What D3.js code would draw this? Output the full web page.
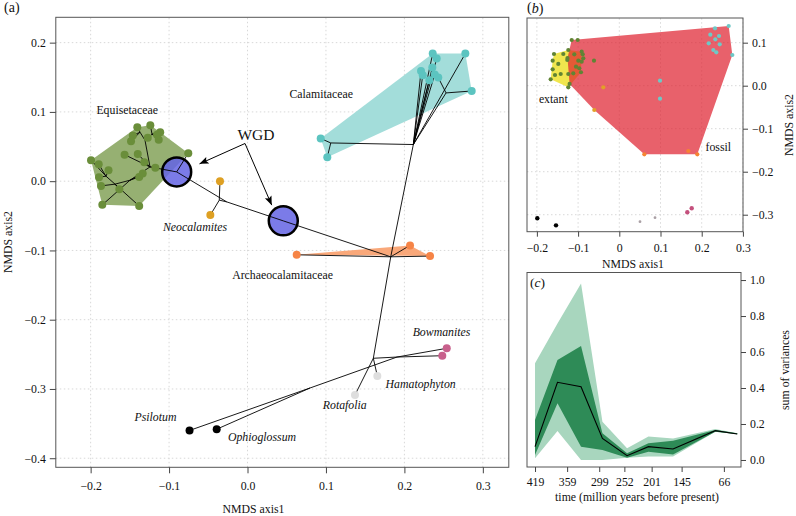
<!DOCTYPE html>
<html><head><meta charset="utf-8">
<script src="https://cdn.jsdelivr.net/npm/d3@7"></script>
<style>body{margin:0;background:#fff}</style>
</head><body><svg id="c" width="796" height="516"></svg>
<script>
// ---------------- Panel (a) data (NMDS coordinates) ----------------
const equisetaceae = [
 ["E1",-0.1995,0.0303],["E2",-0.1897,0.0245],["E3",-0.1772,0.0159],["E4",-0.1893,0.0058],
 ["E5",-0.1868,-0.0068],["E6",-0.1851,-0.0342],["E7",-0.1634,-0.0118],["E8",-0.1381,-0.0358],
 ["E9",-0.1567,0.0382],["E10",-0.1399,0.0394],["E11",-0.1462,0.0661],["E12",-0.1485,0.0577],
 ["E13",-0.1405,0.0779],["E14",-0.1239,0.0808],["E15",-0.1272,0.0627],["E16",-0.1113,0.0707],
 ["E17",-0.1154,0.0671],["E18",-0.1132,0.0599],["E19",-0.1316,0.0274],["E20",-0.1175,0.0195],
 ["E21",-0.1381,0.0062],["E22",-0.1336,0.0111],["E23",-0.0755,0.0404]];
const calamitaceae = [
 ["C1",0.2361,0.1842],["C2",0.2412,0.1770],["C3",0.2777,0.1842],["C4",0.2858,0.1302],
 ["C5",0.2212,0.1591],["C6",0.2234,0.1529],["C7",0.2356,0.1640],["C8",0.2387,0.1539],
 ["C9",0.2318,0.1457],["C10",0.2432,0.1496],["C11",0.0933,0.0616],["C12",0.1017,0.0346]];
const archaeocalamitaceae = [["A1",0.0627,-0.1063],["A2",0.2072,-0.0927],["A3",0.2327,-0.1082]];
const neocalamites = [["Na",-0.0351,0.0],["Nb",-0.0474,-0.049]];
const bowmanites = [["B1",0.254,-0.2413],["B2",0.2483,-0.252]];
const hamatophyton = [["H",0.1655,-0.2813]];
const rotafolia = [["R",0.137,-0.3087]];
const outgroup = [["Ps",-0.0739,-0.3599],["Op",-0.0393,-0.3581]];
const internalNodes = [
 ["W1",-0.0903,0.0134],["W2",0.0456,-0.0573],["NN",-0.0265,-0.0299],["N1",-0.036,-0.0274],
 ["AN",0.1826,-0.1092],["CN",0.2114,0.0529],["CL",0.1061,0.0552],["CR",0.2531,0.1274],
 ["TN",0.1604,-0.2557],["BN",0.1906,-0.2539],["PO",0.0797,-0.2986],
 ["EA",-0.1243,0.0206],["EB",-0.1307,0.0591],["EG",-0.137,0.0707],["EC",-0.1217,0.0678],
 ["ED",-0.1498,0.0014],["EE",-0.1689,-0.0043],["EF",-0.1804,0.0072]];
const wgdNodes = ["W1","W2"];
const edges = [
 ["W1","NN"],["NN","W2"],["W2","AN"],["NN","N1"],["N1","Na"],["N1","Nb"],
 ["AN","A1"],["AN","A2"],["AN","A3"],["AN","CN"],["AN","TN"],
 ["CN","CL"],["CL","C11"],["CL","C12"],["CN","C1"],["CN","C2"],["CN","C5"],["CN","C6"],
 ["CN","C7"],["CN","C8"],["CN","C9"],["CN","C3"],["CN","CR"],["CR","C4"],["CR","C10"],
 ["TN","R"],["TN","H"],["TN","BN"],["BN","B1"],["BN","B2"],["BN","PO"],["PO","Ps"],["PO","Op"],
 ["W1","EA"],["W1","E23"],["EA","EB"],["EB","EG"],["EG","E11"],["EG","E13"],["EG","E12"],
 ["EB","EC"],["EC","E14"],["EC","E16"],["EC","E17"],["EC","E18"],["EB","E15"],["EA","E9"],
 ["EA","E10"],["EA","E19"],["EA","E20"],["EA","ED"],["ED","E21"],["ED","E22"],["ED","EE"],
 ["ED","E6"],["EE","E8"],["EE","E7"],["EE","EF"],["EF","E1"],["EF","E2"],["EF","E4"],
 ["EF","E3"],["EE","E5"]];
const taxonLabels = [
 ["Equisetaceae",-0.1534,0.1034,false],["Calamitaceae",0.094,0.1255,false],
 ["Neocalamites",-0.0669,-0.0668,true],["Archaeocalamitaceae",0.0447,-0.136,false],
 ["Bowmanites",0.2473,-0.2174,true],["Hamatophyton",0.2207,-0.2928,true],
 ["Rotafolia",0.124,-0.3227,true],["Psilotum",-0.1173,-0.34,true],["Ophioglossum",0.0185,-0.3692,true]];
const wgdLabel = ["WGD",0.0107,0.0678];
const wgdArrowVertex = [-0.0032,0.0544];
const wgdArrowTips = [[-0.0612,0.025],[0.0309,-0.0346]];
const aXTicks = [-0.2,-0.1,0,0.1,0.2,0.3];
const aYTicks = [-0.4,-0.3,-0.2,-0.1,0,0.1,0.2];

// ---------------- Panel (b) data ----------------
const bExtant = [[-0.1585,0.0737],[-0.1617,0.0581],[-0.1617,0.0381],[-0.1665,0.0149],[-0.1561,0.0249],
 [-0.1481,0.0505],[-0.1422,0.0272],[-0.1359,0.0737],[-0.1238,-0.0037],[-0.1238,0.083],
 [-0.1262,0.0598],[-0.1238,0.0272],[-0.0913,0.0791],[-0.093,0.0312],[-0.1117,0.0288]];
const bFossilEqui = [[-0.1155,0.1063],[-0.101,0.1063],[-0.1092,0.073],[-0.0888,0.073],[-0.0995,0.0581],
 [-0.0913,0.0558],[-0.0874,0.0637],[-0.0614,0.0581],[-0.1051,0.0442],[-0.0971,0.0405],
 [-0.1257,0.0644],[-0.1206,0.004]];
const bCalam = [[0.2323,0.1335],[0.2655,0.1388],[0.2209,0.1186],[0.242,0.1156],[0.233,0.1079],
 [0.217,0.0986],[0.2437,0.0963],[0.2282,0.083],[0.2354,0.0777],[0.2743,0.0714],[0.0988,0.0116],[0.0988,-0.0302]];
const bArch = [[0.0607,-0.1595],[0.1675,-0.1519],[0.1893,-0.1595]];
const bNeo = [[-0.0388,-0.0037],[-0.0607,-0.0565]];
const bOut = [[-0.199,-0.3084],[-0.1536,-0.3247]];
const bProto = [[0.0502,-0.3163],[0.0867,-0.307]];
const bBow = [[0.165,-0.2944],[0.1757,-0.2851]];
const bXTicks = [-0.2,-0.1,0,0.1,0.2,0.3];
const bYTicks = [0.1,0,-0.1,-0.2,-0.3];
const bLabels = [["extant",-0.1602,-0.0316],["fossil",0.2403,-0.1419]];

// ---------------- Panel (c) data ----------------
const periods = [419,377,333,293,247,207,161,82,41];
const medianVar = [0.074,0.432,0.407,0.12,0.024,0.074,0.061,0.163,0.144];
const outerLow  = [0.009,0.161,0.0,0.0,0.013,0.019,0.019,0.157,0.144];
const outerHigh = [0.537,0.759,0.981,0.213,0.065,0.13,0.12,0.172,0.148];
const innerLow  = [0.028,0.315,0.074,0.056,0.013,0.046,0.031,0.157,0.143];
const innerHigh = [0.222,0.556,0.633,0.148,0.037,0.093,0.107,0.167,0.148];
const timeTicks = [419,359,299,252,201,145,66];
const cYTicks = [0,0.2,0.4,0.6,0.8,1.0];

// ---------------- drawing ----------------
const FONT = "'Liberation Serif','Times New Roman',serif";
const FS = 11.8;
const svg = d3.select("#c");
svg.append("rect").attr("width",796).attr("height",516).attr("fill","#fff");
const fmt1 = d => (d<0?"\u2212":"") + Math.abs(d).toFixed(1);
const gridStyle = s => s.attr("stroke","#d8d8d8").attr("stroke-width",1).attr("stroke-dasharray","1.5,2.5");
function styleAxis(g){
  g.select(".domain").remove();
  g.selectAll(".tick line").attr("stroke","#444");
  g.selectAll(".tick text").attr("font-family",FONT).attr("font-size",FS).attr("fill","#111");
}
function text(g,x,y,s,opt={}){
  const t = g.append("text").attr("x",x).attr("y",y).attr("font-family",FONT)
    .attr("font-size",opt.size||FS).attr("fill","#111").attr("dominant-baseline","central")
    .attr("text-anchor",opt.anchor||"middle").text(s);
  if(opt.italic) t.attr("font-style","italic");
  if(opt.rotate) t.attr("transform",`rotate(${opt.rotate},${x},${y})`);
  return t;
}

// ===== Panel A =====
const ax = d3.scaleLinear().domain([-0.2444,0.3331]).range([55.8,508.8]);
const ay = d3.scaleLinear().domain([-0.4131,0.2366]).range([467.3,17.3]);
const gA = svg.append("g");
gA.selectAll(".gx").data(aXTicks).join("line").attr("x1",d=>ax(d)).attr("x2",d=>ax(d))
  .attr("y1",ay.range()[0]).attr("y2",ay.range()[1]).call(gridStyle);
gA.selectAll(".gy").data(aYTicks).join("line").attr("y1",d=>ay(d)).attr("y2",d=>ay(d))
  .attr("x1",ax.range()[0]).attr("x2",ax.range()[1]).call(gridStyle);

const allLeaves = [].concat(equisetaceae,calamitaceae,archaeocalamitaceae,neocalamites,bowmanites,hamatophyton,rotafolia,outgroup,internalNodes);
const pos = new Map(allLeaves.map(d=>[d[0],[ax(d[1]),ay(d[2])]]));
function hullPath(pts){ const h = d3.polygonHull(pts); return "M"+h.join("L")+"Z"; }
const hulls = [[equisetaceae,"rgb(150,176,114)"],[calamitaceae,"rgb(163,221,218)"],[archaeocalamitaceae,"rgb(249,168,122)"]];
hulls.forEach(([grp,col])=>{
  gA.append("path").attr("d",hullPath(grp.map(d=>[ax(d[1]),ay(d[2])]))).attr("fill",col);
});
// WGD circles
gA.selectAll(".wgd").data(wgdNodes).join("circle").attr("cx",d=>pos.get(d)[0]).attr("cy",d=>pos.get(d)[1])
  .attr("r",14.5).attr("fill","rgb(100,100,228)").attr("fill-opacity",0.85).attr("stroke","#000").attr("stroke-width",2.5);
// tree edges
gA.selectAll(".edge").data(edges).join("line")
  .attr("x1",d=>pos.get(d[0])[0]).attr("y1",d=>pos.get(d[0])[1])
  .attr("x2",d=>pos.get(d[1])[0]).attr("y2",d=>pos.get(d[1])[1])
  .attr("stroke","#000").attr("stroke-width",0.9);
// points
const groups = [[equisetaceae,"rgb(106,142,58)"],[calamitaceae,"rgb(92,196,192)"],[archaeocalamitaceae,"rgb(246,132,70)"],
 [neocalamites,"rgb(222,160,35)"],[bowmanites,"rgb(200,96,140)"],[hamatophyton,"rgb(222,222,222)"],[rotafolia,"rgb(222,222,222)"],[outgroup,"#000"]];
groups.forEach(([grp,col])=>{
  gA.append("g").selectAll("circle").data(grp).join("circle").attr("cx",d=>ax(d[1])).attr("cy",d=>ay(d[2]))
    .attr("r",4).attr("fill",col);
});
// labels
taxonLabels.forEach(d=>text(gA,ax(d[1]),ay(d[2]),d[0],{italic:d[3]}));
text(gA,ax(wgdLabel[1]),ay(wgdLabel[2]),wgdLabel[0],{size:15.5});
const defs = svg.append("defs");
defs.append("marker").attr("id","ah").attr("viewBox","0 0 10 10").attr("refX",10).attr("refY",5)
  .attr("markerWidth",9).attr("markerHeight",9).attr("markerUnits","userSpaceOnUse").attr("orient","auto")
  .append("path").attr("d","M0,1 L10,5 L0,9 L2,5 Z").attr("fill","#000");
wgdArrowTips.forEach(t=>{
  gA.append("line").attr("x1",ax(wgdArrowVertex[0])).attr("y1",ay(wgdArrowVertex[1]))
    .attr("x2",ax(t[0])).attr("y2",ay(t[1])).attr("stroke","#000").attr("stroke-width",1)
    .attr("marker-end","url(#ah)");
});
// frame and axes
gA.append("rect").attr("x",55.8).attr("y",17.3).attr("width",453).attr("height",450)
  .attr("fill","none").attr("stroke","#555").attr("stroke-width",1);
gA.append("g").attr("transform","translate(0,467.3)")
  .call(d3.axisBottom(ax).tickValues(aXTicks).tickFormat(fmt1).tickSize(6).tickPadding(8)).call(styleAxis);
gA.append("g").attr("transform","translate(55.8,0)")
  .call(d3.axisLeft(ay).tickValues(aYTicks).tickFormat(fmt1).tickSize(6).tickPadding(4)).call(styleAxis);
text(gA,253.5,509,"NMDS axis1");
text(gA,8,242,"NMDS axis2",{rotate:-90});
text(gA,4,7.5,"(a)",{anchor:"start",size:14});

// ===== Panel B =====
const bx = d3.scaleLinear().domain([-0.224,0.3002]).range([527,743]);
const by = d3.scaleLinear().domain([-0.3395,0.1574]).range([231.7,18]);
const gB = svg.append("g");
gB.selectAll(".gx").data(bXTicks).join("line").attr("x1",d=>bx(d)).attr("x2",d=>bx(d))
  .attr("y1",by.range()[0]).attr("y2",by.range()[1]).call(gridStyle);
gB.selectAll(".gy").data(bYTicks).join("line").attr("y1",d=>by(d)).attr("y2",d=>by(d))
  .attr("x1",bx.range()[0]).attr("x2",bx.range()[1]).call(gridStyle);
gB.append("path").attr("d",hullPath(bExtant.map(d=>[bx(d[0]),by(d[1])]))).attr("fill","rgb(240,230,78)");
gB.append("path").attr("d",hullPath([].concat(bFossilEqui,bCalam,bArch,bNeo).map(d=>[bx(d[0]),by(d[1])])))
  .attr("fill","rgb(222,30,44)").attr("fill-opacity",0.7);
const bGroups = [[bExtant,"rgb(96,132,52)",2.1],[bFossilEqui,"rgb(96,132,52)",2.1],[bCalam,"rgb(110,200,198)",2.1],
 [bArch,"rgb(246,132,50)",2.1],[bNeo,"rgb(226,160,40)",2.1],[bOut,"#000",2.2],[bProto,"rgb(170,160,165)",1.4],[bBow,"rgb(196,80,125)",2.2]];
bGroups.forEach(([grp,col,r])=>{
  gB.append("g").selectAll("circle").data(grp).join("circle").attr("cx",d=>bx(d[0])).attr("cy",d=>by(d[1]))
    .attr("r",r).attr("fill",col);
});
bLabels.forEach(d=>text(gB,bx(d[1]),by(d[2]),d[0]));
gB.append("rect").attr("x",527).attr("y",18).attr("width",216).attr("height",213.7)
  .attr("fill","none").attr("stroke","#555");
gB.append("g").attr("transform","translate(0,231.7)")
  .call(d3.axisBottom(bx).tickValues(bXTicks).tickFormat(d=>d===0?"0":fmt1(d)).tickSize(5).tickPadding(7)).call(styleAxis);
gB.append("g").attr("transform","translate(743,0)")
  .call(d3.axisRight(by).tickValues(bYTicks).tickFormat(fmt1).tickSize(5).tickPadding(4)).call(styleAxis);
text(gB,633,263.5,"NMDS axis1");
text(gB,789,125,"NMDS axis2",{rotate:-90});
const tb = text(gB,527,7.5,"(",{anchor:"start",size:14});
tb.append("tspan").attr("font-style","italic").text("b"); tb.append("tspan").text(")");

// ===== Panel C =====
const cx = d3.scaleLinear().domain([434,34]).range([527,741]);
const cy = d3.scaleLinear().domain([-0.039,1.042]).range([467,272.5]);
const gC = svg.append("g");
const idx = d3.range(periods.length);
const area = (lo,hi)=>d3.area().x(i=>cx(periods[i])).y0(i=>cy(lo[i])).y1(i=>cy(hi[i]));
gC.append("path").attr("d",area(outerLow,outerHigh)(idx)).attr("fill","rgb(168,214,190)");
gC.append("path").attr("d",area(innerLow,innerHigh)(idx)).attr("fill","rgb(46,139,87)");
gC.append("path").attr("d",d3.line().x(i=>cx(periods[i])).y(i=>cy(medianVar[i]))(idx))
  .attr("fill","none").attr("stroke","#000").attr("stroke-width",1.1);
gC.append("rect").attr("x",527).attr("y",272.5).attr("width",214).attr("height",194.5)
  .attr("fill","none").attr("stroke","#555");
gC.append("g").attr("transform","translate(0,467)")
  .call(d3.axisBottom(cx).tickValues(timeTicks).tickFormat(d3.format("d")).tickSize(5).tickPadding(6)).call(styleAxis);
gC.append("g").attr("transform","translate(741,0)")
  .call(d3.axisRight(cy).tickValues(cYTicks).tickFormat(d=>d.toFixed(1)).tickSize(5).tickPadding(4)).call(styleAxis);
text(gC,637,497,"time (million years before present)");
text(gC,785,370,"sum of variances",{rotate:-90});
const tc = text(gC,530,282,"(",{anchor:"start",size:13.5});
tc.append("tspan").attr("font-style","italic").text("c"); tc.append("tspan").text(")");
</script></body></html>
